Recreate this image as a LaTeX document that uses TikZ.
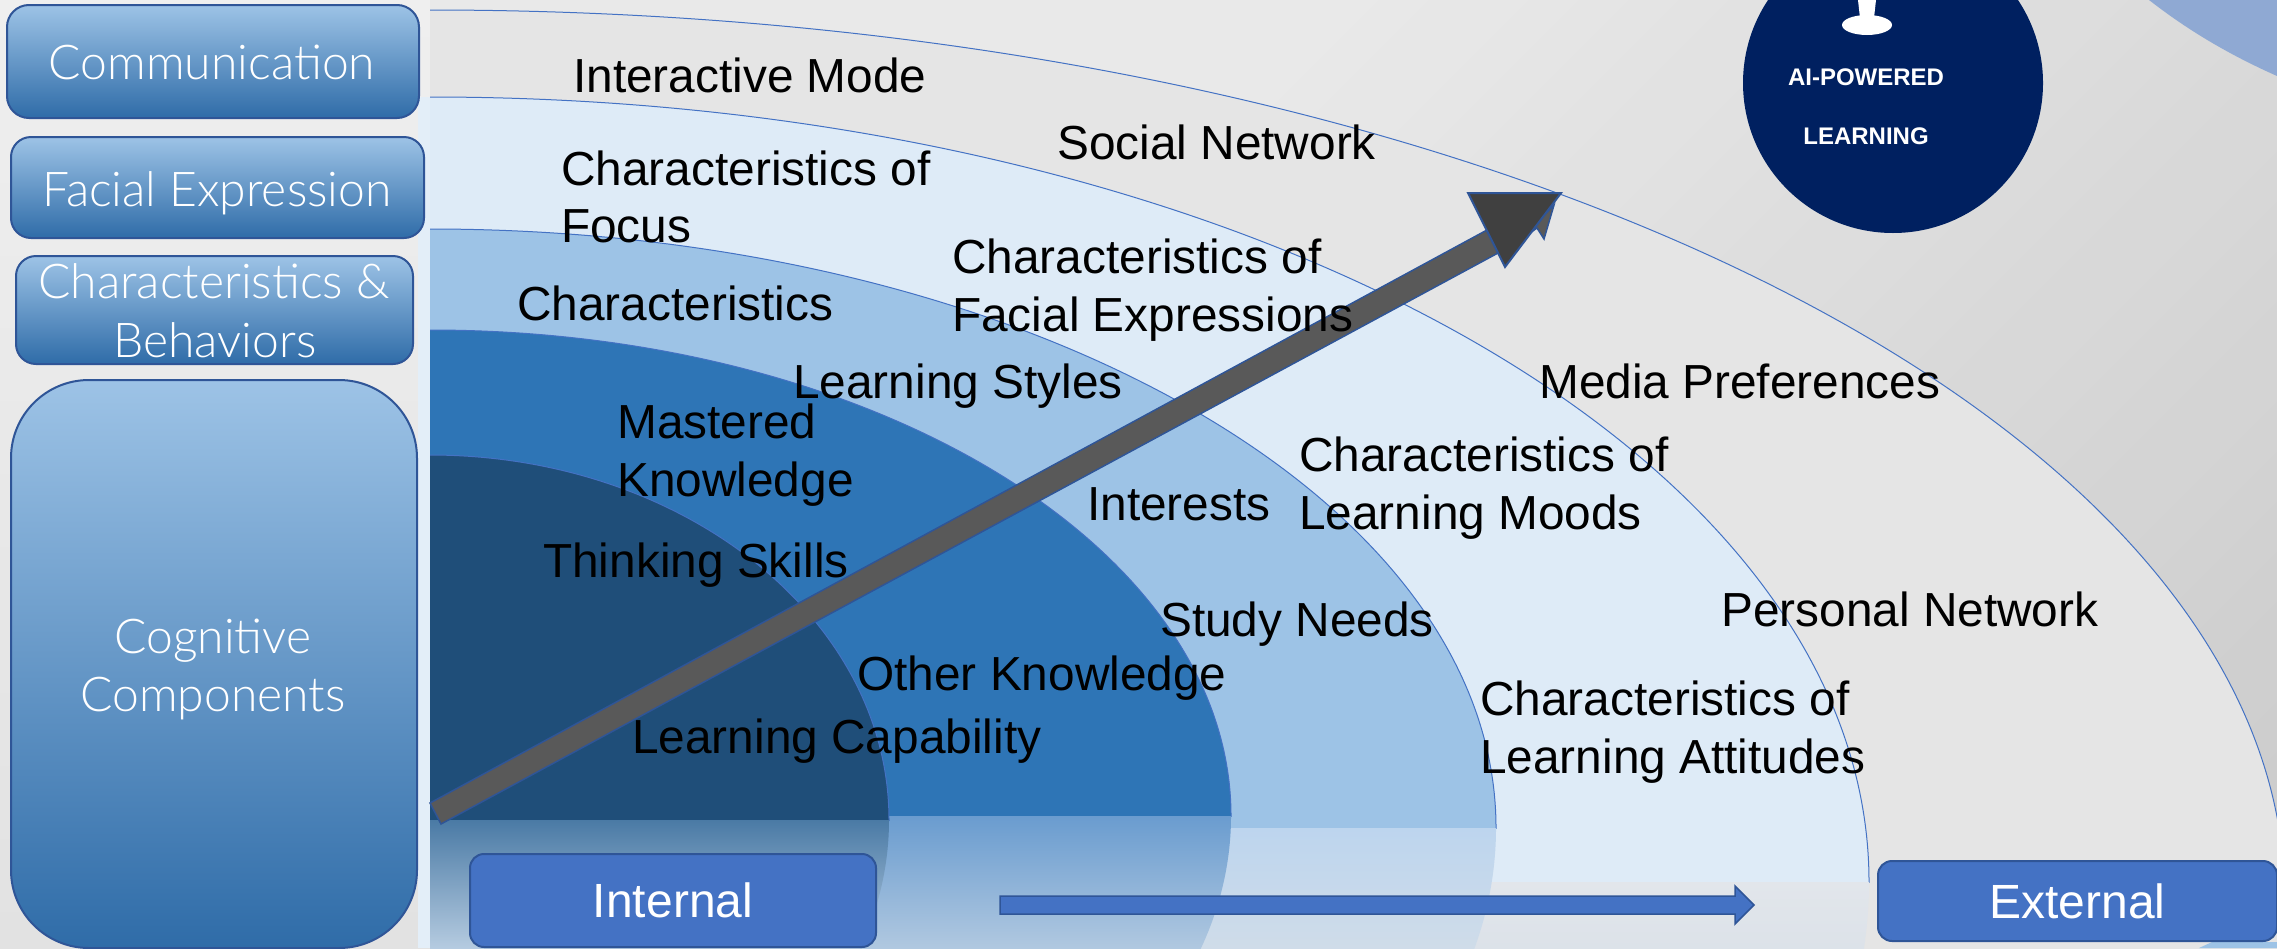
\documentclass[tikz,border=0pt]{standalone}
\usepackage{fontspec}
\setmainfont{Liberation Sans}
\newfontfamily\boxfont{Lato Light}
\definecolor{lineblue}{HTML}{4472C4}
\definecolor{edgeblue}{HTML}{2F5597}
\definecolor{bandA}{HTML}{DEEBF7}
\definecolor{bandB}{HTML}{9DC3E6}
\definecolor{bandC}{HTML}{2E75B6}
\definecolor{bandD}{HTML}{1F4E79}
\definecolor{navy}{HTML}{002060}
\definecolor{cornerblue}{HTML}{8FA9D3}
\definecolor{boxtop}{HTML}{9DC3E6}
\definecolor{boxmid}{HTML}{5B9BD5}
\definecolor{boxbot}{HTML}{2F6CA8}
\definecolor{outerband}{HTML}{E5E5E5}
\definecolor{bgA}{HTML}{E9E9E9}
\definecolor{bgB}{HTML}{C8C8C8}
\definecolor{stripA}{HTML}{EFEFEF}
\definecolor{stripB}{HTML}{E2E2E2}
\definecolor{reflAa}{HTML}{E2E6EB}
\definecolor{reflAb}{HTML}{DCE2E9}
\definecolor{reflBa}{HTML}{BDD5EE}
\definecolor{reflBb}{HTML}{CFDCE9}
\definecolor{reflCa}{HTML}{6A9CCF}
\definecolor{reflCb}{HTML}{B0C8E0}
\definecolor{reflDa}{HTML}{4A7AA5}
\definecolor{reflDb}{HTML}{B5CBE0}
\tikzset{
  sidebox/.style={draw=edgeblue,line width=2pt,top color=boxtop,middle color=boxmid,bottom color=boxbot,text=white,inner sep=0pt},
  flatbox/.style={draw=edgeblue,line width=2pt,fill=lineblue,rounded corners=14pt,text=white,inner sep=0pt,font=\fontsize{48}{50}\selectfont},
  sidelabel/.style={text=white,inner sep=0pt,font=\boxfont\fontsize{48}{58}\selectfont,anchor=base},
  item/.style={text=black,inner sep=0pt,anchor=base west,font=\fontsize{47.8}{58}\selectfont},
  badge/.style={text=white,inner sep=0pt,font=\bfseries\fontsize{24}{28}\selectfont},
}
% #1 centre y, #2 x radius, #3 y radius, #4 fill, #5 reflection top, #6 reflection bottom
\newcommand{\bandshape}[6]{%
  \begin{scope}
    \clip (430,0) rectangle (2277,#1);
    \fill[#4] (430,#1) ellipse [x radius=#2pt,y radius=#3pt];
    \draw[lineblue,line width=1pt] (430,#1) ellipse [x radius=#2pt,y radius=#3pt];
  \end{scope}
  \begin{scope}
    \clip (430,#1) rectangle (2277,948);
    \clip (430,#1) ellipse [x radius=#2pt,y radius=#3pt];
    \shade[top color=#5,bottom color=#6] (430,#1) rectangle (2277,948);
  \end{scope}}
\begin{document}
\begin{tikzpicture}[x=1pt,y=-1pt]
\useasboundingbox (0,0) rectangle (2277,948);
% background
\begin{scope}
  \clip (0,0) rectangle (2277,948);
  \fill[bgA] (0,0) rectangle (2277,948);
  \foreach \k in {0,...,40} {
    \pgfmathsetmacro{\c}{1329+50*\k}
    \pgfmathsetmacro{\p}{2.5*\k}
    \fill[bgB!\p!bgA] (\c,0) -- (\c-948,948) -- (3400,948) -- (3400,0) -- cycle;
  }
  \shade[top color=stripA,bottom color=stripB] (0,0) rectangle (430,948);
\end{scope}
% bands
\begin{scope}
  \clip (430,0) rectangle (2277,948);
  \fill[outerband] (430,900) ellipse [x radius=1855pt,y radius=890pt];
  \draw[lineblue,line width=1pt] (430,900) ellipse [x radius=1855pt,y radius=890pt];
\end{scope}
\fill[bandA!85!white] (418,97) rectangle (430,948);
\bandshape{882}{1439}{785}{bandA}{reflAa}{reflAb}
\bandshape{828}{1066}{599}{bandB}{reflBa}{reflBb}
\bandshape{816}{801}{486}{bandC}{reflCa}{reflCb}
\bandshape{820}{459}{365}{bandD}{reflDa}{reflDb}
% corners
\fill[cornerblue] (2149,0) .. controls (2190,32) and (2232,56) .. (2277,76) -- (2277,0) -- cycle;
\fill[bandB] (2199,948) -- (2212,942) -- (2277,942) -- (2277,948) -- cycle;
% badge
\fill[navy] (1893,83) circle [radius=150pt];
\fill[white] (1867,25) ellipse [x radius=25pt,y radius=10pt];
\fill[white] (1858,0) -- (1876,0) -- (1874,18) -- (1860,18) -- cycle;
\node[badge] (ai) at (1866,77) {AI-POWERED};
\node[badge] (learn) at (1866,136) {LEARNING};
% big arrow
\coordinate (ta) at (430,803);
\coordinate (tb) at (441,824);
\coordinate (sa) at (1487,230);
\coordinate (sb) at (1498,253);
\coordinate (ha) at (1468,193);
\coordinate (hb) at (1561,193);
\coordinate (hc) at (1505,267);
\filldraw[fill=black!65,draw=edgeblue,line width=1.5pt] (ta) -- (sa) -- (sb) -- (tb) -- cycle;
\filldraw[fill=black!65,draw=edgeblue,line width=1.5pt] (1520,240) -- (1537,228) -- (1544,239) -- (1554,205) -- cycle;
\filldraw[fill=black!75,draw=edgeblue,line width=2pt] (ha) -- (hb) -- (hc) -- cycle;
% side boxes
\node[sidebox,rounded corners=22pt,minimum width=412pt,minimum height=113pt] (bcomm) at (213,61.5) {};
\node[sidebox,rounded corners=20pt,minimum width=413pt,minimum height=101pt] (bface) at (217.5,187.5) {};
\node[sidebox,rounded corners=20pt,minimum width=397pt,minimum height=108pt] (bchar) at (214.5,310) {};
\node[sidebox,rounded corners=78pt,minimum width=406pt,minimum height=568pt] (bcogn) at (214,664) {};
\node[sidelabel] (tcomm) at (212,79) {Communication};
\node[sidelabel] (tface) at (217,206) {Facial Expression};
\node[sidelabel] (tchara) at (214,298) {Characteristics \&};
\node[sidelabel] (tcharb) at (215,357) {Behaviors};
\node[sidelabel] (tcoga) at (213,653) {Cognitive};
\node[sidelabel] (tcogb) at (213,711) {Components};
% bottom row
\node[flatbox,minimum width=406pt,minimum height=93pt] (internal) at (673,900.5) {Internal};
\node[flatbox,minimum width=399pt,minimum height=80pt] (external) at (2077.5,901) {External};
\filldraw[fill=lineblue,draw=edgeblue,line width=1.5pt] (1000,896) -- (1735,896) -- (1735,886) -- (1754,905) -- (1735,924) -- (1735,914) -- (1000,914) -- cycle;
% labels
\node[item] (n1) at (573,92) {Interactive Mode};
\node[item] (n2a) at (561,185) {Characteristics of};
\node[item] (n2b) at (561,242) {Focus};
\node[item] (n3) at (517,320) {Characteristics};
\node[item] (n4) at (1057,159) {Social Network};
\node[item] (n5a) at (952,273) {Characteristics of};
\node[item] (n5b) at (952,331) {Facial Expressions};
\node[item] (n6) at (793,398) {Learning Styles};
\node[item] (n7a) at (617,438) {Mastered};
\node[item] (n7b) at (617,496) {Knowledge};
\node[item] (n8) at (543,577) {Thinking Skills};
\node[item] (n9) at (1087,520) {Interests};
\node[item] (n10) at (1539,398) {Media Preferences};
\node[item] (n11a) at (1299,471) {Characteristics of};
\node[item] (n11b) at (1299,529) {Learning Moods};
\node[item] (n12) at (1160,636) {Study Needs};
\node[item] (n13) at (1721,626) {Personal Network};
\node[item] (n14) at (857,690) {Other Knowledge};
\node[item] (n15) at (632,753) {Learning Capability};
\node[item] (n16a) at (1480,715) {Characteristics of};
\node[item] (n16b) at (1480,773) {Learning Attitudes};
\end{tikzpicture}
\end{document}
